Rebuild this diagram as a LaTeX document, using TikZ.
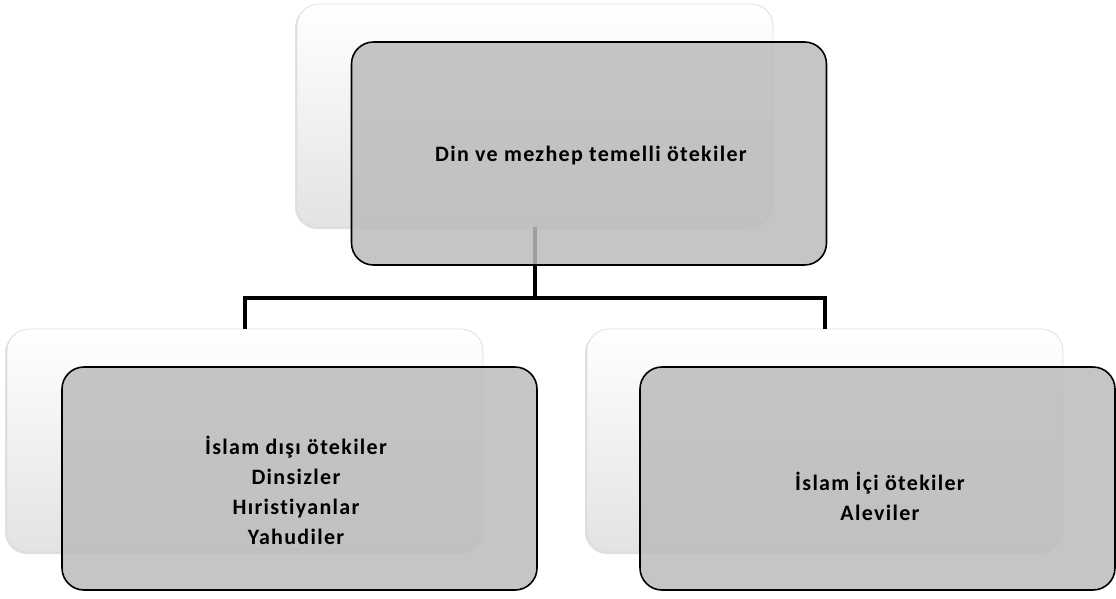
\documentclass[tikz,border=0pt]{standalone}
\usepackage{fontspec}
\setmainfont{Carlito}[Ligatures=NoCommon, LetterSpace=6]
\usetikzlibrary{shadows}
\tikzset{
  backbox/.style={rounded corners=22pt, minimum width=476pt, minimum height=223pt, inner sep=0pt,
    top color=white, bottom color=gray!22, draw=gray!25, line width=0.8pt,
    drop shadow={shadow xshift=-2pt, shadow yshift=-2pt, opacity=0.25}},
  frontbox/.style={rounded corners=22pt, minimum width=475pt, minimum height=223pt, inner sep=0pt,
    draw=black, line width=1.6pt, fill=gray!50!white!98!black, fill opacity=0.85, text opacity=1},
  label/.style={align=center, font=\fontsize{22}{30}\selectfont\bfseries},
  conn/.style={draw=black, line width=4pt}
}
\begin{document}
\begin{tikzpicture}[x=1pt,y=-1pt]
\useasboundingbox (0,0) rectangle (1116,598);
% back layer
\node[backbox] (topback) at (535,115.5) {};
\node[backbox] (leftback) at (245,440.5) {};
\node[backbox] (rightback) at (825,440.5) {};
% connectors
\draw[conn] (topback.south) -- ++(0,71) coordinate (split);
\draw[conn] (leftback.north) |- (split) -| (rightback.north);
% front layer
\node[frontbox] (top) at (589,153.5) {};
\node[frontbox] (left) at (299.5,478.5) {};
\node[frontbox] (right) at (877.5,478.5) {};
% texts
\node[label] (toptext) at (591,156) {Din ve mezhep temelli ötekiler};
\node[label] (lefttext) at (296,490) {İslam dışı ötekiler\\Dinsizler\\Hıristiyanlar\\Yahudiler};
\node[label] (righttext) at (880,496) {İslam İçi ötekiler\\Aleviler};
\end{tikzpicture}
\end{document}
